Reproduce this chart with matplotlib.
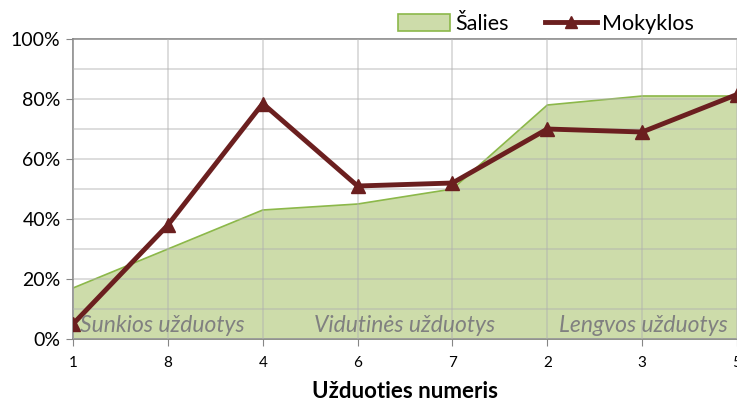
import numpy as np
import matplotlib
matplotlib.use("Agg")
import matplotlib.pyplot as plt
from matplotlib.ticker import PercentFormatter, MultipleLocator
from matplotlib.patches import Patch
from matplotlib.lines import Line2D

plt.rcParams['font.family'] = ['Lato', 'DejaVu Sans']

tasks = ['1', '8', '4', '6', '7', '2', '3', '5']
salies = [17, 30, 43, 45, 50, 78, 81, 81]        # country average, %
mokyklos = [5, 38, 78.5, 51, 52, 70, 69, 81.5]   # school, %
groups = ['Sunkios užduotys', 'Vidutinės užduotys', 'Lengvos užduotys']

x = np.arange(len(tasks))

fig = plt.figure(figsize=(7.37, 4.03), dpi=100)
ax = fig.add_axes([0.0991, 0.1588, 0.9009, 0.7444])

ax.fill_between(x, 0, salies, color='#cddcaa', zorder=1)
ax.plot(x, salies, color='#8cb84a', lw=1.2, zorder=2)
ax.plot(x, mokyklos, color='#6b1f1f', lw=3.5, marker='^', ms=10, zorder=4)

ax.set_xlim(0, len(tasks) - 1)
ax.set_ylim(0, 100)
ax.set_xticks(x)
ax.set_xticklabels(tasks, fontsize=11)
ax.yaxis.set_major_locator(MultipleLocator(20))
ax.yaxis.set_minor_locator(MultipleLocator(10))
ax.yaxis.set_major_formatter(PercentFormatter(decimals=0))
ax.tick_params(axis='y', labelsize=14, length=5, color='#868686', pad=4)
ax.tick_params(axis='y', which='minor', length=0)
ax.tick_params(axis='x', length=5, color='#868686', pad=7)

# grid drawn above the area, below the school line
ax.set_axisbelow(False)
ax.grid(True, which='both', color='#b0b0b0', alpha=0.5, lw=1.2)

for s in ['left', 'bottom', 'top']:
    ax.spines[s].set_color('#868686')
    ax.spines[s].set_linewidth(1.2)
ax.spines['right'].set_visible(False)

ax.set_xlabel('Užduoties numeris', fontsize=16, fontweight='bold', labelpad=8)

ax.text(0.07, 2.5, groups[0], fontsize=16.5, style='italic', color='#808080', zorder=5)
ax.text(3.5, 2.5, groups[1], fontsize=16.5, style='italic', color='#808080', ha='center', zorder=5)
ax.text(6.9, 2.5, groups[2], fontsize=16.5, style='italic', color='#808080', ha='right', zorder=5)

handles = [Patch(facecolor='#cddcaa', edgecolor='#8cb84a', lw=1.2),
           Line2D([], [], color='#6b1f1f', lw=3.5, marker='^', ms=9)]
fig.legend(handles, ['Šalies', 'Mokyklos'], loc='center left',
           bbox_to_anchor=(398 / 737, 1 - 24 / 403), borderaxespad=0, borderpad=0,
           ncol=2, frameon=False, fontsize=15.5, handlelength=2.4, handleheight=0.8,
           columnspacing=1.7, handletextpad=0.25)

fig.savefig('out.png', dpi=100)
